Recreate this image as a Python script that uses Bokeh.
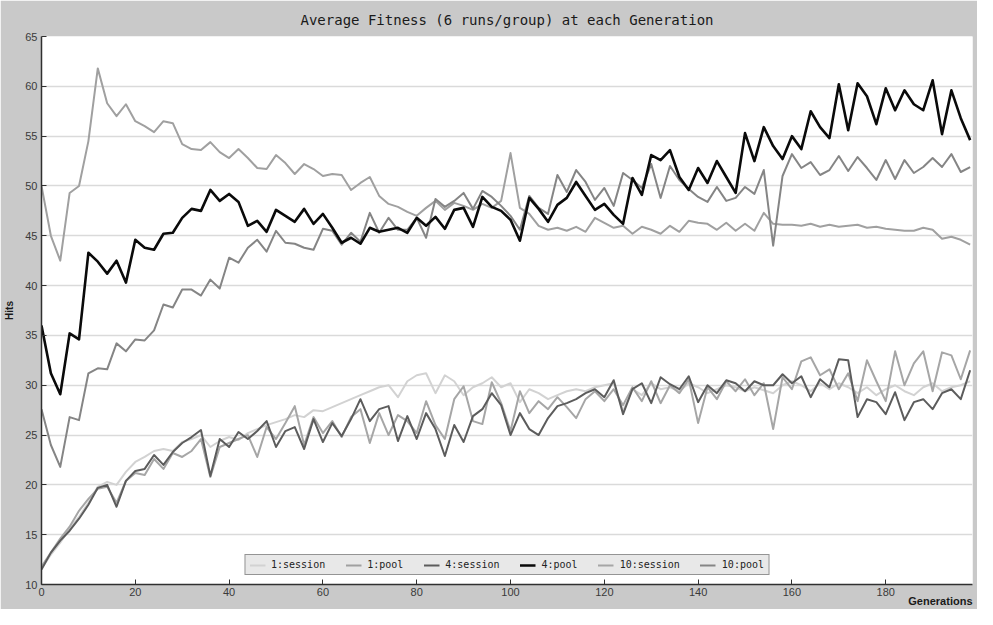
from bokeh.plotting import figure
from bokeh.models import Range1d, FixedTicker, Legend, LegendItem, Title
from bokeh.embed import file_html
from bokeh.resources import INLINE

# ---------------- data ----------------
generations = list(range(0, 200, 2))

session_1 = [11.6, 13.0, 14.2, 15.6, 16.8, 18.2, 19.8, 20.3, 20.0, 21.3,
             22.3, 22.8, 23.4, 23.6, 23.4, 24.3, 24.6, 25.0, 23.8, 24.4,
             24.8, 24.5, 25.2, 25.6, 26.0, 26.3, 26.6, 27.0, 26.8, 27.5,
             27.4, 27.8, 28.2, 28.6, 29.0, 29.4, 29.8, 30.0, 28.8, 30.4,
             31.0, 31.2, 29.2, 31.0, 30.4, 29.0, 29.8, 30.2, 30.8, 29.8,
             30.2, 28.3, 29.6, 29.2, 28.6, 29.0, 29.4, 29.6, 29.4, 29.8,
             30.0, 30.2, 27.4, 29.6, 29.0, 30.2, 29.6, 29.8, 29.4, 30.2,
             29.8, 29.2, 29.6, 30.0, 29.8, 29.4, 29.8, 29.5, 29.2, 30.0,
             30.4, 30.0, 29.4, 30.2, 29.6, 30.2, 29.8, 29.2, 29.8, 29.0,
             29.6, 30.0, 29.4, 29.0, 29.8, 30.2, 29.4, 29.8, 30.0, 30.4]

pool_1 = [50.0, 45.0, 42.5, 49.3, 50.0, 54.5, 61.8, 58.3, 57.0, 58.2,
          56.5, 56.0, 55.4, 56.5, 56.3, 54.2, 53.7, 53.6, 54.4, 53.4,
          52.8, 53.7, 52.8, 51.8, 51.7, 53.1, 52.3, 51.2, 52.2, 51.7,
          51.0, 51.2, 51.1, 49.6, 50.3, 50.9, 49.0, 48.2, 47.9, 47.4,
          47.0, 47.8, 48.5, 47.6, 48.3, 48.0, 47.6, 48.2, 47.8, 48.5,
          53.3, 47.8, 47.2, 46.0, 45.6, 45.8, 45.5, 45.9, 45.4, 46.8,
          46.3, 45.8, 46.0, 45.2, 45.9, 45.6, 45.2, 46.0, 45.4, 46.5,
          46.3, 46.2, 45.6, 46.3, 45.5, 46.2, 45.5, 47.3, 46.2, 46.1,
          46.1, 46.0, 46.2, 45.9, 46.1, 45.9, 46.0, 46.1, 45.8, 45.9,
          45.7, 45.6, 45.5, 45.5, 45.8, 45.6, 44.7, 44.9, 44.6, 44.1]

session_4 = [11.5, 13.2, 14.4, 15.4, 16.6, 18.0, 19.7, 20.0, 17.8, 20.4,
             21.4, 21.6, 23.0, 22.0, 23.3, 24.2, 24.8, 25.5, 20.9, 24.6,
             23.8, 25.3, 24.6, 25.4, 26.4, 23.8, 25.4, 25.8, 23.6, 26.6,
             24.3, 26.2, 24.9, 26.6, 28.6, 26.4, 27.6, 27.9, 24.4, 26.9,
             24.6, 27.2, 25.6, 22.9, 26.0, 24.3, 26.9, 27.6, 29.2, 28.0,
             25.0, 27.2, 25.6, 25.0, 26.7, 27.9, 28.2, 28.6, 29.2, 29.6,
             28.8, 30.5, 27.1, 29.6, 30.2, 28.2, 30.8, 30.1, 29.6, 30.9,
             28.3, 30.0, 29.2, 30.5, 30.2, 29.4, 30.4, 30.0, 30.0, 31.1,
             30.2, 30.9, 28.8, 30.6, 29.8, 32.6, 32.5, 26.8, 28.6, 28.3,
             27.1, 29.3, 26.5, 28.3, 28.6, 27.6, 29.2, 29.6, 28.6, 31.5]

pool_4 = [36.0, 31.2, 29.1, 35.2, 34.6, 43.3, 42.4, 41.2, 42.5, 40.3,
          44.6, 43.8, 43.6, 45.2, 45.3, 46.8, 47.7, 47.5, 49.6, 48.5,
          49.2, 48.4, 46.0, 46.5, 45.4, 47.6, 47.0, 46.4, 47.7, 46.2,
          47.2, 45.8, 44.3, 44.8, 44.2, 45.8, 45.4, 45.6, 45.8, 45.3,
          46.8, 46.0, 46.9, 45.7, 47.6, 47.8, 45.9, 48.9, 47.9, 47.5,
          46.6, 44.5, 48.8, 47.7, 46.4, 48.1, 48.8, 50.4, 49.0, 47.6,
          48.2, 47.1, 46.2, 50.8, 49.1, 53.1, 52.6, 53.6, 50.9, 49.6,
          51.8, 50.3, 52.5, 50.9, 49.3, 55.3, 52.5, 55.9, 54.0, 52.7,
          55.0, 53.7, 57.5, 55.9, 54.8, 60.2, 55.6, 60.3, 59.0, 56.2,
          59.8, 57.6, 59.6, 58.2, 57.6, 60.6, 55.2, 59.6, 56.8, 54.6]

session_10 = [11.8, 13.2, 14.6, 15.8, 17.4, 18.6, 19.6, 19.8, 18.2, 20.4,
              21.2, 21.0, 22.6, 21.6, 23.2, 22.8, 23.4, 24.6, 20.8, 23.8,
              24.2, 24.6, 25.0, 22.8, 25.8, 24.6, 26.2, 27.9, 24.0, 26.8,
              25.2, 26.4, 24.8, 26.8, 27.6, 24.2, 27.2, 25.0, 27.0, 26.4,
              25.2, 28.4, 26.0, 24.6, 28.6, 29.9, 26.4, 26.1, 30.3, 28.2,
              25.4, 29.4, 27.2, 28.4, 27.6, 28.8, 27.8, 26.7, 28.6, 29.4,
              28.4, 29.6, 28.0, 29.8, 28.4, 30.4, 28.2, 30.0, 29.2, 30.6,
              26.2, 29.8, 28.6, 30.4, 29.4, 30.6, 29.0, 30.2, 25.6, 30.8,
              29.6, 32.4, 32.8, 31.0, 31.6, 29.6, 31.2, 28.4, 32.5, 30.4,
              28.4, 33.4, 30.0, 32.2, 33.4, 29.4, 33.3, 33.0, 30.6, 33.5]

pool_10 = [27.6, 24.0, 21.8, 26.8, 26.5, 31.2, 31.7, 31.6, 34.2, 33.4,
           34.6, 34.5, 35.5, 38.1, 37.8, 39.6, 39.6, 39.0, 40.6, 39.7,
           42.8, 42.3, 43.8, 44.6, 43.4, 45.5, 44.3, 44.2, 43.8, 43.6,
           45.7, 45.5, 44.1, 45.3, 44.4, 47.3, 45.3, 46.8, 45.6, 45.6,
           46.8, 44.8, 48.7, 47.9, 48.5, 49.3, 47.7, 49.5, 48.9, 48.0,
           47.0, 45.6, 49.0, 47.8, 47.2, 51.1, 49.4, 51.6, 50.4, 48.6,
           49.8, 48.0, 51.3, 50.6, 49.8, 52.2, 48.8, 52.0, 50.6, 49.7,
           48.9, 48.4, 49.9, 48.5, 48.8, 49.9, 49.2, 51.6, 44.0, 51.0,
           53.2, 51.8, 52.4, 51.1, 51.6, 53.0, 51.5, 52.9, 51.8, 50.6,
           52.6, 50.7, 52.6, 51.3, 51.9, 52.8, 51.9, 53.2, 51.4, 51.9]

series_labels = ["1:session", "1:pool", "4:session", "4:pool", "10:session", "10:pool"]
y_ticks = [10, 15, 20, 25, 30, 35, 40, 45, 50, 55, 60, 65]
x_ticks = [0, 20, 40, 60, 80, 100, 120, 140, 160, 180]

# ---------------- figure ----------------
p = figure(width=977, height=609, output_backend="svg", toolbar_location=None,
           x_range=Range1d(0, 198.5), y_range=Range1d(10, 65),
           title="Average Fitness (6 runs/group) at each Generation",
           min_border_left=41, min_border_right=5, min_border_top=36, min_border_bottom=25)

p.border_fill_color = "#c9c9c9"
p.background_fill_color = "white"
p.outline_line_color = None

p.title.align = "center"
p.title.text_font = "DejaVu Sans Mono"
p.title.text_font_size = "14px"
p.title.text_font_style = "normal"
p.title.text_color = "#1a1a1a"
p.title.standoff = 18

p.xgrid.visible = False
p.ygrid.grid_line_color = "#dadada"
p.ygrid.grid_line_width = 1.5

for ax in (p.xaxis, p.yaxis):
    ax.axis_line_color = "#303030"
    ax.axis_line_width = 1.5
    ax.major_tick_line_color = "#303030"
    ax.major_tick_in = 5
    ax.major_tick_out = 0
    ax.minor_tick_line_color = None
    ax.major_label_text_font = "Liberation Sans"
    ax.major_label_text_font_size = "11px"
    ax.major_label_text_color = "#3a3a3a"

p.yaxis.ticker = FixedTicker(ticks=y_ticks)
p.xaxis.ticker = FixedTicker(ticks=x_ticks)
p.yaxis.major_label_standoff = 4
p.xaxis.major_label_standoff = 3
p.yaxis.axis_label = "Hits"
p.yaxis.axis_label_text_font = "Liberation Sans"
p.yaxis.axis_label_text_font_size = "10px"
p.yaxis.axis_label_text_font_style = "bold"
p.yaxis.axis_label_text_color = "#1a1a1a"
p.yaxis.axis_label_standoff = 7

# lines (lower group first, black last on top)
r_s1 = p.line(generations, session_1, line_color="#d2d2d2", line_width=2, line_join="round")
r_s10 = p.line(generations, session_10, line_color="#a6a6a6", line_width=2, line_join="round")
r_s4 = p.line(generations, session_4, line_color="#5c5c5c", line_width=2, line_join="round")
r_p1 = p.line(generations, pool_1, line_color="#a0a0a0", line_width=2, line_join="round")
r_p10 = p.line(generations, pool_10, line_color="#858585", line_width=2, line_join="round")
r_p4 = p.line(generations, pool_4, line_color="#0a0a0a", line_width=2.6, line_join="round")

renderers = [r_s1, r_p1, r_s4, r_p4, r_s10, r_p10]
legend = Legend(items=[LegendItem(label=lab, renderers=[r]) for lab, r in zip(series_labels, renderers)],
                orientation="horizontal", location="bottom_center")
legend.label_text_font = "DejaVu Sans Mono"
legend.label_text_font_size = "10px"
legend.label_text_color = "#222222"
legend.glyph_width = 16
legend.glyph_height = 10
legend.label_height = 10
legend.label_standoff = 6
legend.spacing = 20
legend.padding = 4
legend.margin = 9
legend.background_fill_color = "#e8e8e8"
legend.background_fill_alpha = 1.0
legend.border_line_color = "#404040"
legend.border_line_width = 1.5
p.add_layout(legend, "center")

# "Generations" right-aligned below the x axis, tucked up against the tick-label row
gen_title = Title(text="Generations", align="right", text_font="Liberation Sans",
                  text_font_size="11px", text_font_style="bold", text_color="#1a1a1a",
                  standoff=-11)
p.add_layout(gen_title, "below")

open("out.html", "w").write(file_html(p, INLINE))
